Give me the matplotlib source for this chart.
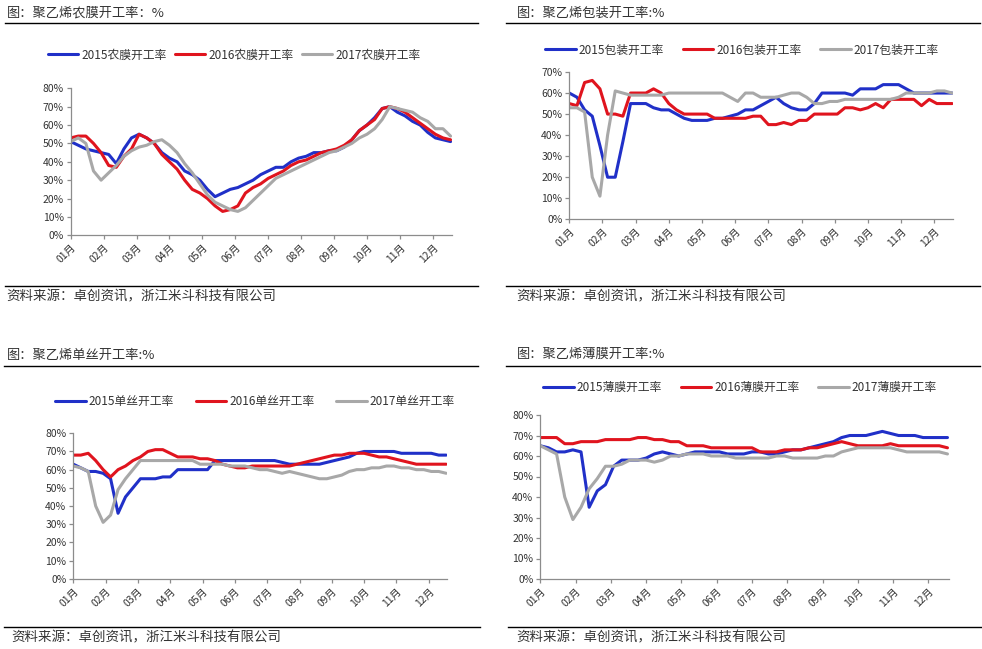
import numpy as np
import matplotlib
matplotlib.use('Agg')
import matplotlib.pyplot as plt
from matplotlib.lines import Line2D

plt.rcParams['font.family'] = ['Noto Sans CJK SC', 'DejaVu Sans']

W, H = 982, 649

months = ['01月', '02月', '03月', '04月', '05月', '06月',
          '07月', '08月', '09月', '10月', '11月', '12月']
years = ['2015', '2016', '2017']

# weekly rates (%)
nm_2015 = [51, 49, 47, 46, 45, 44, 39, 47, 53, 55, 53, 50, 45, 42, 40, 35, 33,
           30, 25, 21, 23, 25, 26, 28, 30, 33, 35, 37, 37, 40, 42, 43, 45, 45,
           46, 46, 48, 52, 57, 60, 64, 69, 70, 67, 65, 62, 60, 56, 53, 52, 51]
nm_2016 = [53, 54, 54, 50, 45, 38, 37, 43, 47, 55, 53, 50, 44, 40, 36, 30, 25,
           23, 20, 16, 13, 14, 16, 23, 26, 28, 31, 33, 35, 38, 40, 41, 43, 45,
           46, 47, 49, 52, 57, 60, 63, 69, 70, 69, 67, 64, 61, 58, 55, 53, 52]
nm_2017 = [51, 53, 50, 35, 30, 34, 38, 43, 46, 48, 49, 51, 52, 49, 45, 39, 34,
           28, 22, 18, 16, 14, 13, 15, 19, 23, 27, 31, 33, 35, 37, 39, 41, 43,
           45, 46, 48, 50, 53, 55, 58, 63, 70, 69, 68, 67, 64, 62, 58, 58, 54]

bz_2015 = [60, 58, 52, 49, 35, 20, 20, 37, 55, 55, 55, 53, 52, 52, 50, 48, 47,
           47, 47, 48, 48, 49, 50, 52, 52, 54, 56, 58, 55, 53, 52, 52, 55, 60,
           60, 60, 60, 59, 62, 62, 62, 64, 64, 64, 62, 60, 60, 60, 60, 60, 60]
bz_2016 = [55, 54, 65, 66, 62, 50, 50, 49, 60, 60, 60, 62, 60, 55, 52, 50, 50,
           50, 50, 48, 48, 48, 48, 48, 49, 49, 45, 45, 46, 45, 47, 47, 50, 50,
           50, 50, 53, 53, 52, 53, 55, 53, 57, 57, 57, 57, 54, 57, 55, 55, 55]
bz_2017 = [53, 53, 51, 20, 11, 40, 61, 60, 59, 59, 59, 59, 59, 60, 60, 60, 60,
           60, 60, 60, 60, 58, 56, 60, 60, 58, 58, 58, 59, 60, 60, 58, 55, 55,
           56, 56, 57, 57, 57, 57, 57, 57, 57, 58, 60, 60, 60, 60, 61, 61, 60]

ds_2015 = [63, 61, 59, 59, 58, 55, 36, 45, 50, 55, 55, 55, 56, 56, 60, 60, 60,
           60, 60, 65, 65, 65, 65, 65, 65, 65, 65, 65, 64, 63, 63, 63, 63, 63,
           64, 65, 66, 67, 69, 70, 70, 70, 70, 70, 69, 69, 69, 69, 69, 68, 68]
ds_2016 = [68, 68, 69, 65, 60, 56, 60, 62, 65, 67, 70, 71, 71, 69, 67, 67, 67,
           66, 66, 65, 63, 62, 61, 61, 62, 62, 62, 62, 62, 62, 63, 64, 65, 66,
           67, 68, 68, 69, 69, 69, 68, 67, 67, 66, 65, 64, 63, 63, 63, 63, 63]
ds_2017 = [62, 61, 59, 40, 31, 35, 49, 55, 60, 65, 65, 65, 65, 65, 65, 65, 65,
           63, 63, 63, 63, 62, 62, 62, 61, 60, 60, 59, 58, 59, 58, 57, 56, 55,
           55, 56, 57, 59, 60, 60, 61, 61, 62, 62, 61, 61, 60, 60, 59, 59, 58]

bm_2015 = [65, 64, 62, 62, 63, 62, 35, 43, 46, 55, 58, 58, 58, 59, 61, 62, 61,
           60, 61, 62, 62, 62, 62, 61, 61, 61, 62, 62, 61, 61, 62, 63, 63, 64,
           65, 66, 67, 69, 70, 70, 70, 71, 72, 71, 70, 70, 70, 69, 69, 69, 69]
bm_2016 = [69, 69, 69, 66, 66, 67, 67, 67, 68, 68, 68, 68, 69, 69, 68, 68, 67,
           67, 65, 65, 65, 64, 64, 64, 64, 64, 64, 62, 62, 62, 63, 63, 63, 64,
           64, 65, 66, 67, 66, 65, 65, 65, 65, 66, 65, 65, 65, 65, 65, 65, 64]
bm_2017 = [65, 63, 61, 40, 29, 35, 44, 49, 55, 55, 56, 58, 58, 58, 57, 58, 60,
           60, 61, 61, 61, 60, 60, 60, 59, 59, 59, 59, 59, 60, 60, 59, 59, 59,
           59, 60, 60, 62, 63, 64, 64, 64, 64, 64, 63, 62, 62, 62, 62, 62, 61]

colors = ['#2030C8', '#E0141E', '#A8A8A8']

# (name, series, ymax, title, axes box px: left, right, top, bottom,
#  title pos, rule x-range, legend centre, legend colspacing, source pos, source rule y)
panels = [
    ('农膜', [nm_2015, nm_2016, nm_2017], 80, '图：聚乙烯农膜开工率：%',
     (70.7, 451.7, 88.3, 235.3), (6.7, 13), (5, 478, 23.3), (234, 55), 0.7,
     (6.7, 296), (5, 478, 286)),
    ('包装', [bz_2015, bz_2016, bz_2017], 70, '图：聚乙烯包装开工率:%',
     (569.3, 953.3, 72, 219.3), (516.7, 13), (506, 980, 23.3), (742, 50), 1.6,
     (516.7, 296), (506, 980, 286)),
    ('单丝', [ds_2015, ds_2016, ds_2017], 80, '图：聚乙烯单丝开工率:%',
     (73.3, 447.3, 433.3, 578.7), (6.7, 355), (4, 478, 366), (255, 401.7), 1.85,
     (11.7, 637), (4, 480, 626.7)),
    ('薄膜', [bm_2015, bm_2016, bm_2017], 80, '图：聚乙烯薄膜开工率:%',
     (540.3, 948.7, 415, 579), (516.7, 354.3), (506, 980, 366), (740, 387.3), 1.6,
     (516.7, 637), (508, 982, 626.7)),
]

fig = plt.figure(figsize=(W / 100, H / 100), dpi=100)
fig.patch.set_facecolor('white')


def fx(px):
    return px / W


def fy(py):
    return 1 - py / H


for name, series, ymax, title, box, tpos, trule, lpos, colsp, spos, srule in panels:
    l, r, t, b = box
    ax = fig.add_axes([fx(l), fy(b), (r - l) / W, (b - t) / H])
    x = np.arange(len(series[0]))
    handles = []
    for yr, vals, c in zip(years, series, colors):
        h, = ax.plot(x, vals, color=c, lw=2.2, solid_joinstyle='round',
                     solid_capstyle='round', label=yr + name + '开工率')
        handles.append(h)
    ax.set_xlim(0, 50.15)
    ax.set_ylim(0, ymax)
    ax.set_yticks(range(0, ymax + 1, 10))
    ax.set_yticklabels([f'{v}%' for v in range(0, ymax + 1, 10)])
    ax.set_xticks(np.arange(12) * 52 / 12)
    ax.set_xticklabels(months, rotation=45, ha='right', va='top',
                       rotation_mode='anchor')
    for s in ['top', 'right']:
        ax.spines[s].set_visible(False)
    for s in ['left', 'bottom']:
        ax.spines[s].set_color('#8C8C8C')
        ax.spines[s].set_linewidth(0.9)
    ax.tick_params(axis='both', colors='#8C8C8C', labelcolor='#333333',
                   labelsize=7.5, length=3, width=0.9, pad=2)
    ax.patch.set_alpha(0)

    fig.legend(handles=handles, loc='center', ncol=3,
               bbox_to_anchor=(fx(lpos[0]), fy(lpos[1])), frameon=False,
               fontsize=8.5, handlelength=2.6, handletextpad=0.25,
               columnspacing=colsp, labelcolor='#333333')

    fig.text(fx(tpos[0]), fy(tpos[1]), title, fontsize=9.5, color='#333333',
             ha='left', va='center')
    fig.add_artist(Line2D([fx(trule[0]), fx(trule[1])], [fy(trule[2])] * 2,
                          color='black', lw=1.0))
    fig.add_artist(Line2D([fx(srule[0]), fx(srule[1])], [fy(srule[2])] * 2,
                          color='black', lw=1.0))
    fig.text(fx(spos[0]), fy(spos[1]), '资料来源：卓创资讯，浙江米斗科技有限公司',
             fontsize=9.7, color='#333333', ha='left', va='center')

fig.savefig('out.png', dpi=100)
